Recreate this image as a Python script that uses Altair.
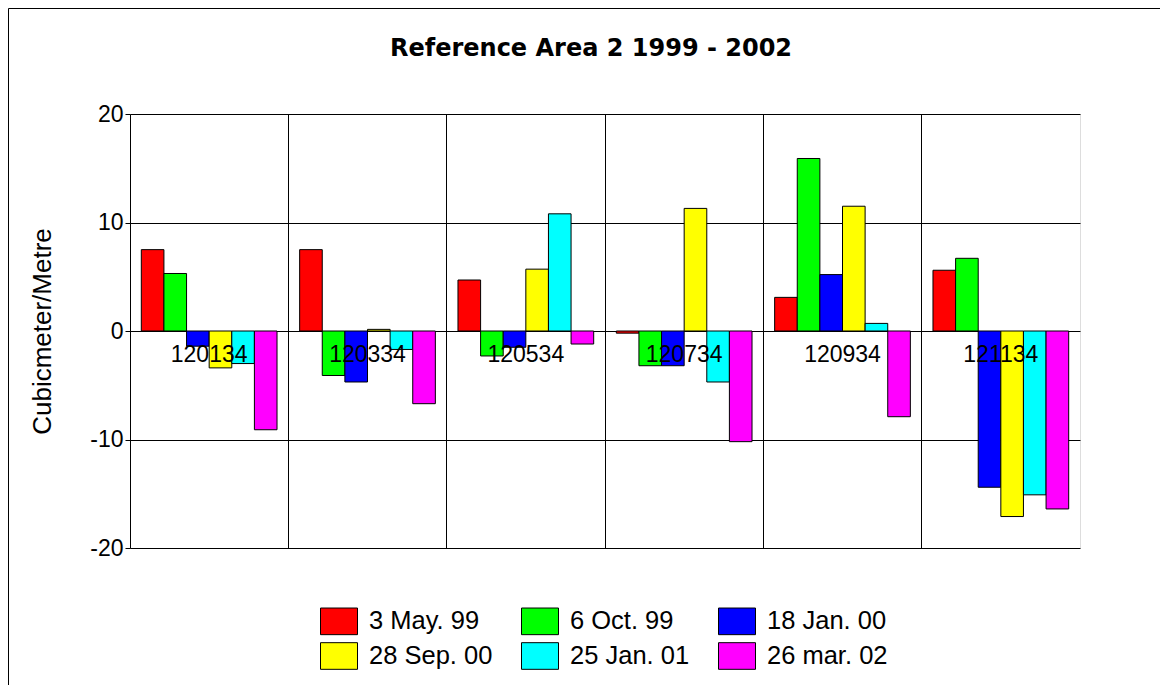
import altair as alt
import pandas as pd

# ---- data ----
categories = ["120134", "120334", "120534", "120734", "120934", "121134"]
series = ["3 May. 99", "6 Oct. 99", "18 Jan. 00", "28 Sep. 00", "25 Jan. 01", "26 mar. 02"]
colors = ["#FF0000", "#00FF00", "#0000FF", "#FFFF00", "#00FFFF", "#FF00FF"]

may99 = [7.5, 7.5, 4.7, -0.2, 3.1, 5.6]
oct99 = [5.3, -4.1, -2.3, -3.2, 15.9, 6.7]
jan00 = [-1.4, -4.7, -1.5, -3.2, 5.2, -14.4]
sep00 = [-3.4, 0.15, 5.7, 11.3, 11.5, -17.1]
jan01 = [-3.0, -1.7, 10.8, -4.7, 0.7, -15.1]
mar02 = [-9.1, -6.7, -1.2, -10.2, -7.9, -16.4]

y_ticks = [-20, -10, 0, 10, 20]

# ---- build table ----
rows = []
for s, vals in zip(series, [may99, oct99, jan00, sep00, jan01, mar02]):
    for c, v in zip(categories, vals):
        rows.append({"profile": c, "date": s, "value": v})
df = pd.DataFrame(rows)
lab = pd.DataFrame({"profile": categories})

W, H = 950, 434
PL, PT, PR, PB = 122, 106, 80, 137
FONT = "Liberation Sans"

x_enc = alt.X("profile:N", sort=categories,
              scale=alt.Scale(paddingInner=0, paddingOuter=0),
              axis=alt.Axis(labels=False, ticks=False, domain=False, title=None,
                            grid=True, bandPosition=0, gridColor="black",
                            gridOpacity=1, gridWidth=1))

bars = alt.Chart(df).mark_bar(stroke="black", strokeWidth=1, opacity=1).encode(
    x=x_enc,
    xOffset=alt.XOffset("date:N", sort=series,
                        scale=alt.Scale(paddingInner=0, paddingOuter=0.5)),
    y=alt.Y("value:Q",
            scale=alt.Scale(domain=[-20, 20], nice=False),
            axis=alt.Axis(values=y_ticks, title="Cubicmeter/Metre",
                          labelExpr="'' + datum.value",
                          grid=True, gridColor="black", gridOpacity=1, gridWidth=1,
                          domain=False, tickColor="black", tickSize=5,
                          labelFont=FONT, labelFontSize=23, labelColor="black",
                          labelPadding=2,
                          titleFont=FONT, titleFontSize=26, titleFontWeight="normal",
                          titleColor="black", titlePadding=34)),
    color=alt.Color("date:N", sort=series,
                    scale=alt.Scale(domain=series, range=colors),
                    legend=alt.Legend(title=None, orient="none", legendX=190, legendY=488,
                                      columns=3, direction="horizontal",
                                      symbolType="M-1,-0.72H1V0.72H-1Z",
                                      symbolSize=1369, symbolStrokeColor="black",
                                      symbolStrokeWidth=1, symbolOpacity=1,
                                      labelFont=FONT, labelFontSize=25.5,
                                      labelColor="black", labelOffset=11,
                                      columnPadding=26, rowPadding=0, padding=0)),
)

labels = alt.Chart(lab).mark_text(font=FONT, fontSize=23, color="black",
                                  baseline="alphabetic", dy=31).encode(
    x=alt.X("profile:N", sort=categories),
    y=alt.datum(0),
    text="profile:N",
)

frame = alt.Chart(pd.DataFrame({"a": [0]})).mark_rect(
    fill=None, stroke="black", strokeWidth=1).encode(
    x=alt.value(-PL + 0.5), x2=alt.value(W + PR + 50),
    y=alt.value(-PT + 0.5), y2=alt.value(H + PB + 50),
)

chart = alt.layer(frame, bars, labels).properties(
    width=W, height=H,
    title=alt.TitleParams("Reference Area 2 1999 - 2002", font="DejaVu Sans",
                          fontSize=24, fontWeight="bold", color="black",
                          anchor="middle", dx=-14, offset=-53),
    autosize=alt.AutoSizeParams(type="none"),
    padding={"left": PL, "top": PT, "right": PR, "bottom": PB},
).configure_view(stroke="black", strokeWidth=1).configure(background="white")

chart.save("out.html", embed_options={"renderer": "svg", "actions": False})
